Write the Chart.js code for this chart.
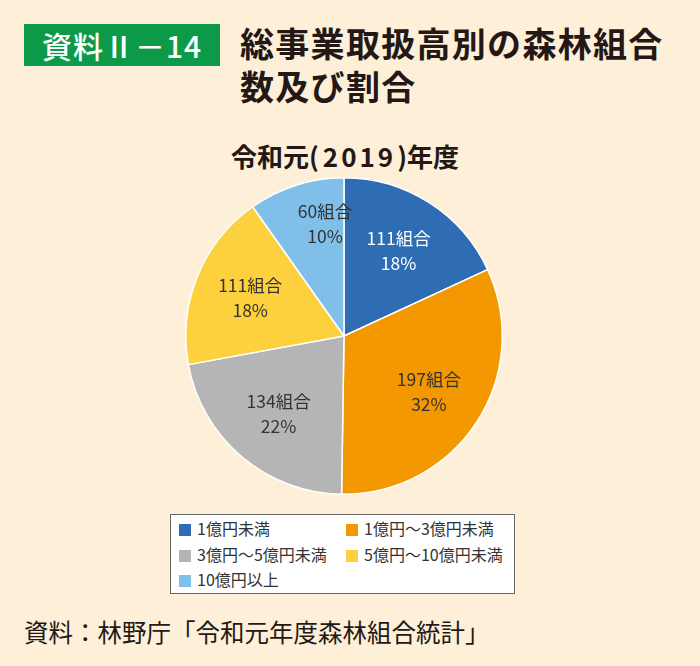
<!DOCTYPE html>
<html>
<head>
<meta charset="utf-8">
<script src="https://cdn.jsdelivr.net/npm/chart.js@4/dist/chart.umd.min.js"></script>
<style>
  body { margin: 0; width: 700px; height: 666px; background: #fdefd8; position: relative; overflow: hidden;
         font-family: "Noto Sans CJK JP", "Noto Sans", sans-serif; color: #231815; }
  .badge { position: absolute; left: 24px; top: 24px; width: 196px; height: 42px; background: #0d9a48;
           color: #fff; font-size: 30px; font-weight: 500; line-height: 42px; text-align: center; letter-spacing: 1px; }
  .title { position: absolute; left: 240px; top: 21px; font-size: 34px; font-weight: 700; line-height: 43px; letter-spacing: 1.3px; }
  .sub { position: absolute; left: 0; width: 690px; top: 137px; text-align: center; font-size: 26px; font-weight: 700; }
  .sub .num { letter-spacing: 3px; padding: 0 1px 0 4px; }
  #wrap { position: absolute; left: 185px; top: 177px; width: 318px; height: 318px; }
  #legend { position: absolute; left: 170px; top: 514px; width: 345px; height: 80px; background: #fff;
            border: 1px solid #666; box-sizing: border-box; font-size: 16px; color: #333; }
  .item { position: absolute; height: 20px; line-height: 20px; white-space: nowrap; }
  .item span { display: inline-block; width: 12px; height: 12px; margin-right: 6px; vertical-align: -1px; }
  .src { position: absolute; left: 24px; top: 614px; font-size: 24.5px; color: #231815; }
</style>
</head>
<body>
<div class="badge">資料Ⅱ－14</div>
<div class="title">総事業取扱高別の森林組合<br>数及び割合</div>
<div class="sub">令和元(<span class="num">2019</span>)年度</div>
<div id="wrap"><canvas id="pie"></canvas></div>
<div id="legend"></div>
<div class="src">資料：林野庁「令和元年度森林組合統計」</div>
<script>
/************** chart data ****************/
const categories = ["1億円未満", "1億円～3億円未満", "3億円～5億円未満", "5億円～10億円未満", "10億円以上"];
const counts = [111, 197, 134, 111, 60];
const percents = [18, 32, 22, 18, 10];
const colors = ["#2e6db4", "#f39800", "#b5b5b5", "#fdd13d", "#80bfea"];
const labelColors = ["#ffffff", "#333333", "#333333", "#333333", "#333333"];

/************** slice labels ****************/
const sliceLabels = {
    id: "sliceLabels",
    afterDatasetsDraw(chart) {
        const ctx = chart.ctx;
        const meta = chart.getDatasetMeta(0);
        meta.data.forEach((arc, i) => {
            const mid = (arc.startAngle + arc.endAngle) / 2;
            let r = arc.outerRadius * 0.64;
            let shift = 0;
            if (i === 4) { r = arc.outerRadius * 0.72; shift = 0.14; }
            const x = arc.x + Math.cos(mid + shift) * r;
            const y = arc.y + Math.sin(mid + shift) * r;
            ctx.save();
            ctx.fillStyle = labelColors[i];
            ctx.font = '17.5px "Noto Sans CJK JP", sans-serif';
            ctx.textAlign = "center";
            ctx.textBaseline = "middle";
            ctx.fillText(counts[i] + "組合", x, y - 12);
            ctx.fillText(percents[i] + "%", x, y + 13);
            ctx.restore();
        });
    }
};

const chart = new Chart(document.getElementById("pie"), {
    type: "pie",
    data: {
        labels: categories,
        datasets: [{
            data: counts,
            backgroundColor: colors,
            borderColor: "#ffffff",
            borderWidth: 1.5
        }]
    },
    options: {
        responsive: true,
        maintainAspectRatio: false,
        animation: false,
        layout: { padding: 0 },
        plugins: {
            legend: { display: false },
            tooltip: { enabled: false }
        }
    },
    plugins: [sliceLabels]
});

/************** legend ****************/
const legendEl = document.getElementById("legend");
const items = Chart.overrides.pie.plugins.legend.labels.generateLabels(chart);
items.forEach((item, i) => {
    const div = document.createElement("div");
    div.className = "item";
    div.style.left = (i % 2 === 0 ? 8 : 175) + "px";
    div.style.top = (3 + Math.floor(i / 2) * 25.5) + "px";
    div.innerHTML = `<span style="background:${item.fillStyle}"></span>${item.text}`;
    legendEl.appendChild(div);
});
</script>
</body>
</html>
